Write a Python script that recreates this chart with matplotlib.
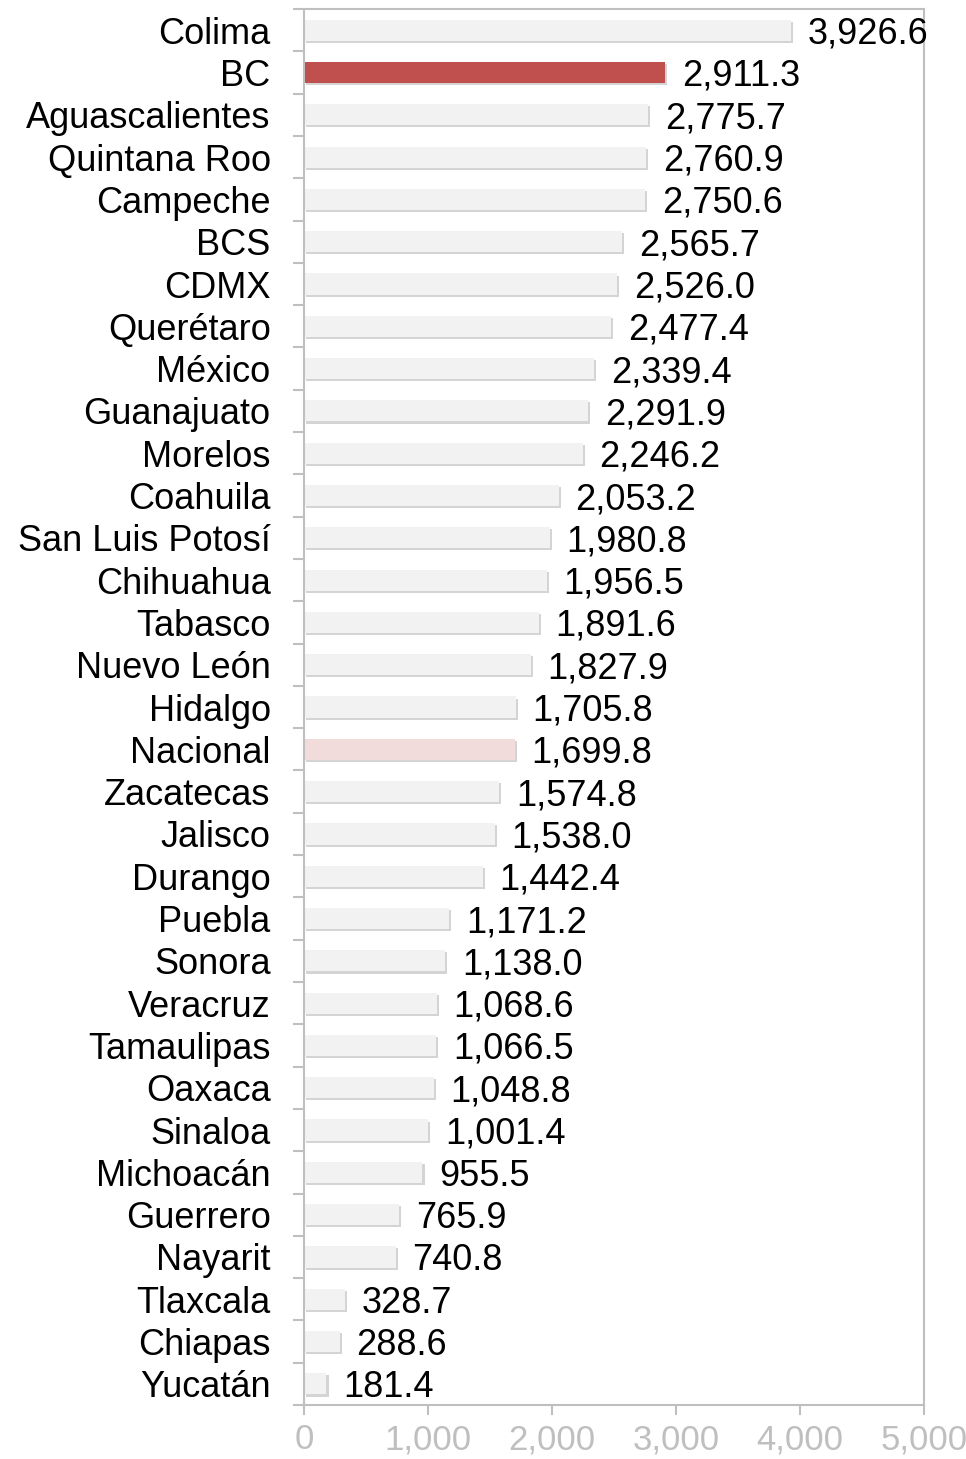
import matplotlib.pyplot as plt
import matplotlib.patheffects as pe
import numpy as np

states = ['Colima', 'BC', 'Aguascalientes', 'Quintana Roo', 'Campeche', 'BCS', 'CDMX',
          'Querétaro', 'México', 'Guanajuato', 'Morelos', 'Coahuila', 'San Luis Potosí',
          'Chihuahua', 'Tabasco', 'Nuevo León', 'Hidalgo', 'Nacional', 'Zacatecas', 'Jalisco',
          'Durango', 'Puebla', 'Sonora', 'Veracruz', 'Tamaulipas', 'Oaxaca', 'Sinaloa',
          'Michoacán', 'Guerrero', 'Nayarit', 'Tlaxcala', 'Chiapas', 'Yucatán']
values = [3926.6, 2911.3, 2775.7, 2760.9, 2750.6, 2565.7, 2526.0, 2477.4, 2339.4, 2291.9,
          2246.2, 2053.2, 1980.8, 1956.5, 1891.6, 1827.9, 1705.8, 1699.8, 1574.8, 1538.0,
          1442.4, 1171.2, 1138.0, 1068.6, 1066.5, 1048.8, 1001.4, 955.5, 765.9, 740.8,
          328.7, 288.6, 181.4]
xticks = [0, 1000, 2000, 3000, 4000, 5000]


def barplot(states, values, outfilename="out.png"):
    #horizontal bars, highlighted BC and Nacional
    plt.rcParams['font.family'] = ['Liberation Sans', 'DejaVu Sans']
    fig = plt.figure(figsize=(9.66, 14.59), dpi=100)
    ax = fig.add_axes([0.3147, 0.037, 0.6418, 0.9568])

    colors = []
    for s in states:
        if s == 'BC':
            colors.append('#c0504d')
        elif s == 'Nacional':
            colors.append('#f2dcdb')
        else:
            colors.append('#f2f2f2')

    ypos = np.arange(len(states))
    bars = ax.barh(ypos, values, height=0.5, color=colors, zorder=2)
    for b in bars:
        b.set_path_effects([pe.SimplePatchShadow(offset=(1.5, -1.5), shadow_rgbFace='#aaaaaa', alpha=0.5),
                            pe.Normal()])

    for y, v in zip(ypos, values):
        ax.annotate(f'{v:,.1f}', (v, y), xytext=(12, 0), textcoords='offset points',
                    va='center_baseline', ha='left', fontsize=26, color='black')

    ax.set_ylim(len(states) - 0.5, -0.5)
    ax.set_xlim(0, 5000)
    ax.set_yticks(ypos)
    ax.set_yticklabels(states, fontsize=26, va='center_baseline')
    ax.set_yticks(np.arange(-0.5, len(states)), minor=True)
    ax.tick_params(axis='y', which='major', length=0, pad=24)
    ax.tick_params(axis='y', which='minor', length=8, width=1.5, color='#bfbfbf', direction='out')

    ax.set_xticks(xticks)
    ax.set_xticklabels([f'{t:,}' for t in xticks], fontsize=25, color='#bfbfbf')
    ax.tick_params(axis='x', length=7, width=1.5, color='#bfbfbf', direction='out', pad=6)

    for sp in ax.spines.values():
        sp.set_color('#bfbfbf')
        sp.set_linewidth(1.5)

    plt.savefig(outfilename, dpi=100)


barplot(states, values)
